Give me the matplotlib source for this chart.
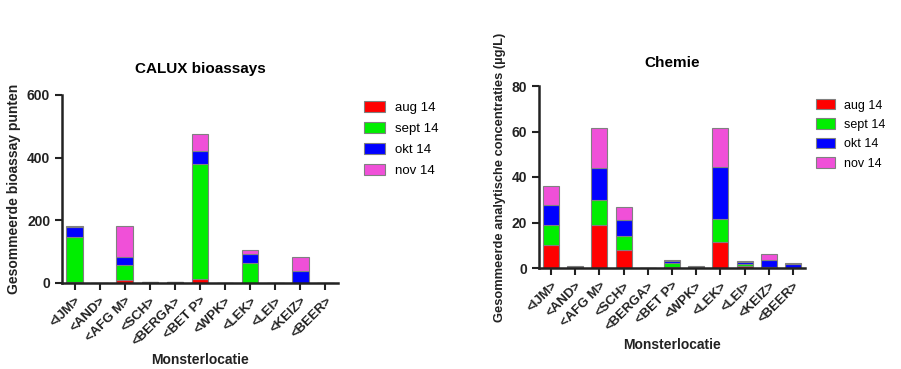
import matplotlib.pyplot as plt
import numpy as np

plt.rcParams['font.family'] = ['Liberation Sans', 'DejaVu Sans']

locaties = ['<IJM>', '<AND>', '<AFG M>', '<SCH>', '<BERGA>', '<BET P>',
            '<WPK>', '<LEK>', '<LEI>', '<KEIZ>', '<BEER>']
maanden = ['aug 14', 'sept 14', 'okt 14', 'nov 14']
kleuren = ['#ff0000', '#00ee00', '#0000ff', '#f050d8']

# CALUX bioassays (bioassay punten)
calux_aug = [2, 0, 8, 2, 2, 14, 0, 1, 0, 0, 0]
calux_sept = [145, 0, 48, 1, 1, 367, 0, 63, 0, 0, 0]
calux_okt = [32, 0, 27, 0, 0, 41, 0, 27, 0, 38, 0]
calux_nov = [2, 0, 98, 0, 0, 53, 0, 13, 0, 44, 0]

# Chemie (ug/L)
chem_aug = [10.0, 0.4, 18.8, 7.9, 0, 0.5, 0.4, 11.3, 1.0, 0.2, 0.1]
chem_sept = [8.8, 0.1, 11.2, 6.3, 0, 1.5, 0.1, 10.4, 0.8, 0.1, 0.0]
chem_okt = [8.9, 0.1, 14.0, 6.9, 0, 1.0, 0.1, 22.7, 1.0, 3.4, 1.5]
chem_nov = [8.5, 0.1, 17.4, 5.6, 0, 0.7, 0.1, 17.0, 0.4, 2.4, 0.4]

fig = plt.figure(figsize=(9.01, 3.69), dpi=100)
W, H = 901, 369


def stapel(ax, reeksen, ymax, ystap, titel, ylabel, pad, ysize):
    x = np.arange(len(locaties))
    onder = np.zeros(len(locaties))
    for waarden, kleur, naam in zip(reeksen, kleuren, maanden):
        ax.bar(x, waarden, 0.66, bottom=onder, color=kleur, edgecolor='#808080',
               linewidth=0.8, label=naam)
        onder += np.array(waarden)
    ax.set_xlim(-0.5, len(locaties) - 0.5)
    ax.set_ylim(0, ymax)
    ax.set_yticks(np.arange(0, ymax + 1, ystap))
    ax.set_xticks(x)
    ax.set_xticklabels(locaties, rotation=45, ha='right', rotation_mode='anchor',
                       fontsize=9.5, fontweight='bold', color='#222222')
    for lbl in ax.get_yticklabels():
        lbl.set_fontweight('bold')
        lbl.set_fontsize(10)
        lbl.set_color('#222222')
    for s in ['top', 'right']:
        ax.spines[s].set_visible(False)
    for s in ['left', 'bottom']:
        ax.spines[s].set_linewidth(1.8)
        ax.spines[s].set_color('#222222')
    ax.tick_params(width=1.5, length=5, color='#222222')
    ax.set_title(titel, fontsize=11, fontweight='bold', pad=pad)
    ax.set_ylabel(ylabel, fontsize=ysize, fontweight='bold', color='#222222')
    ax.set_xlabel('Monsterlocatie', fontsize=10, fontweight='bold', color='#222222')
    return ax


ax1 = fig.add_axes([62 / W, (H - 283) / H, 276 / W, (283 - 95) / H])
stapel(ax1, [calux_aug, calux_sept, calux_okt, calux_nov], 600, 200,
       'CALUX bioassays', 'Gesommeerde bioassay punten', 16, 10)
ax1.legend(loc='upper left', bbox_to_anchor=(1.05, 1.03), frameon=False,
           fontsize=9.5, handlelength=1.6, handleheight=0.9, labelspacing=0.6,
           handletextpad=0.8)

ax2 = fig.add_axes([539 / W, (H - 268) / H, 266 / W, (268 - 86) / H])
stapel(ax2, [chem_aug, chem_sept, chem_okt, chem_nov], 80, 20,
       'Chemie', 'Gesommeerde analytische concentraties (µg/L)', 14, 9.3)
ax2.legend(loc='upper left', bbox_to_anchor=(1.0, 0.99), frameon=False,
           fontsize=9, handlelength=1.5, handleheight=0.9, labelspacing=0.55,
           handletextpad=0.7)

fig.savefig('out.png', dpi=100)
